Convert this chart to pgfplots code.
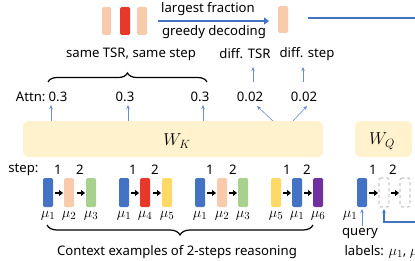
\documentclass[border=0pt]{standalone}
\usepackage{fontspec}
\setmainfont{Noto Sans}
\usepackage{pgfplots}
\pgfplotsset{compat=1.18}
\usetikzlibrary{decorations.pathreplacing,arrows.meta}
\definecolor{tblue}{HTML}{4472C4}
\definecolor{tpeach}{HTML}{F8CBAD}
\definecolor{tgreen}{HTML}{A9D18E}
\definecolor{tred}{HTML}{E8382A}
\definecolor{tyellow}{HTML}{FFD966}
\definecolor{tpurple}{HTML}{7030A0}
\definecolor{tbox}{HTML}{FFF2CC}
\newcommand{\tok}[3]{\addplot[fill=#3, draw=none, rounded corners=1.5bp] coordinates {(#1,178) (#2,178) (#2,207) (#1,207)} -- cycle;}
\newcommand{\dtok}[2]{\addplot[draw=gray!80, dashed, fill=none, rounded corners=1.5bp, line width=0.6bp] coordinates {(#1,178) (#2,178) (#2,207) (#1,207)} -- cycle;}
\newcommand{\barr}[2]{\draw[line width=2.2bp, -{Triangle[length=4bp,width=6bp]}] (axis cs:#1,193) -- (axis cs:#2,193);}
\newcommand{\fs}{\fontsize{13.2}{15}\selectfont}
\newcommand{\ms}{\fontsize{15}{17}\selectfont}
\begin{document}
\begin{tikzpicture}
\clip (0,0) rectangle (415bp,261bp);
\begin{axis}[width=415bp, height=261bp, scale only axis, hide axis,
  xmin=0, xmax=415, ymin=0, ymax=261, y dir=reverse, clip=false]
% top bars
\addplot[fill=tpeach, draw=none, rounded corners=1.5bp] coordinates {(102,7) (111,7) (111,35) (102,35)} -- cycle;
\addplot[fill=tred, draw=none, rounded corners=1.5bp] coordinates {(120,7) (130,7) (130,35) (120,35)} -- cycle;
\addplot[fill=tpeach, draw=none, rounded corners=1.5bp] coordinates {(137,7) (147,7) (147,35) (137,35)} -- cycle;
\addplot[fill=tpeach, draw=none, rounded corners=1.5bp] coordinates {(278,6) (288,6) (288,33) (278,33)} -- cycle;
\draw[tblue, line width=2.4bp, -{Triangle[length=5bp,width=7bp]}] (axis cs:158,21) -- (axis cs:269,21);
\draw[tblue, line width=1.3bp] (axis cs:308,18) -- (axis cs:415,18);
\node[font=\fs] at (axis cs:208,9) {largest fraction};
\node[font=\fs] at (axis cs:214,32) {greedy decoding};
% labels
\node[font=\fs] at (axis cs:131,54) {same TSR, same step};
\node[font=\fs] at (axis cs:245,54) {diff. TSR};
\node[font=\fs] at (axis cs:307,54) {diff. step};
\draw[line width=1.2bp, decorate, decoration={brace, amplitude=9bp}] (axis cs:48,82) -- (axis cs:207,82);
% attn row
\node[font=\fs, anchor=east] at (axis cs:49,97) {Attn:};
\node[font=\fs] at (axis cs:58,97) {0.3};
\node[font=\fs] at (axis cs:125,97) {0.3};
\node[font=\fs] at (axis cs:200,97) {0.3};
\node[font=\fs] at (axis cs:250,97) {0.02};
\node[font=\fs] at (axis cs:304,97) {0.02};
\draw[tblue!80, line width=0.6bp, -{Stealth[length=4bp,width=3.5bp]}] (axis cs:253,82) -- (axis cs:253,67);
\draw[tblue!80, line width=0.6bp, -{Stealth[length=4bp,width=3.5bp]}] (axis cs:303,82) -- (axis cs:303,67);
\draw[tblue!80, line width=0.6bp, -{Stealth[length=4bp,width=3.5bp]}] (axis cs:51,122) -- (axis cs:51,105);
\draw[tblue!80, line width=0.6bp, -{Stealth[length=4bp,width=3.5bp]}] (axis cs:128,122) -- (axis cs:128,105);
\draw[tblue!80, line width=0.6bp, -{Stealth[length=4bp,width=3.5bp]}] (axis cs:203,122) -- (axis cs:203,105);
\draw[tblue!80, line width=0.6bp, -{Stealth[length=4bp,width=3.5bp]}] (axis cs:274,122) -- (axis cs:257,106);
\draw[tblue!80, line width=0.6bp, -{Stealth[length=4bp,width=3.5bp]}] (axis cs:292,122) -- (axis cs:307,106);
% boxes
\addplot[fill=tbox, draw=none, rounded corners=6bp] coordinates {(23,121) (323,121) (323,157) (23,157)} -- cycle;
\addplot[fill=tbox, draw=none, rounded corners=6bp] coordinates {(355,121) (412,121) (412,157) (355,157)} -- cycle;
\node[font=\fontsize{18}{20}\selectfont] at (axis cs:177,141) {$W_K$};
\node[font=\fontsize{18}{20}\selectfont] at (axis cs:382,141) {$W_Q$};
% step row
\node[font=\fs, anchor=east] at (axis cs:42,170) {step:};
\foreach \x/\t in {58/1,80/2,133/1,155/2,210/1,233/2,287/1,307/2,373/1,393/2}{
  \edef\tmp{\noexpand\node[font=\noexpand\fs] at (axis cs:\x,170) {\t};}\tmp
}
% tokens
\tok{43}{53}{tblue}\tok{64}{74}{tpeach}\tok{86}{96}{tgreen}
\tok{119}{129}{tblue}\tok{140}{150}{tred}\tok{162}{172}{tyellow}
\tok{195}{205}{tblue}\tok{217}{227}{tpeach}\tok{238}{248}{tgreen}
\tok{271}{281}{tyellow}\tok{292}{302}{tblue}\tok{313}{323}{tpurple}
\tok{357}{367}{tblue}\dtok{379}{389}\dtok{400}{410}
\barr{55}{63}\barr{77}{85}
\barr{131}{139}\barr{153}{161}
\barr{207}{216}\barr{229}{237}
\barr{283}{291}\barr{304}{312}
\barr{369}{378}\barr{391}{399}
% mu labels
\foreach \x/\t in {48/1,69/2,91/3,124/1,145/4,167/5,200/1,222/2,243/3,276/5,297/1,318/6,350/1}{
  \edef\tmp{\noexpand\node[font=\noexpand\ms] at (axis cs:\x,216) {$\noexpand\mu_{\t}$};}\tmp
}
\draw[tblue!80, line width=0.6bp, -{Stealth[length=4bp,width=3.5bp]}] (axis cs:362,226) -- (axis cs:362,209);
\draw[tblue, line width=1.1bp, -{Stealth[length=4bp,width=3.5bp]}] (axis cs:415,222) -- (axis cs:384,222) -- (axis cs:384,209);
\node[font=\fs] at (axis cs:360,233) {query};
\node[font=\fs, anchor=west] at (axis cs:341,252) {labels: {\ms$\mu_1$}, {\ms$\mu_2$}};
% bottom brace
\draw[line width=1.2bp, decorate, decoration={brace, amplitude=10bp}] (axis cs:313,225) -- (axis cs:47,225);
\node[font=\fs] at (axis cs:177,252) {Context examples of 2-steps reasoning};
\end{axis}
\end{tikzpicture}
\end{document}
